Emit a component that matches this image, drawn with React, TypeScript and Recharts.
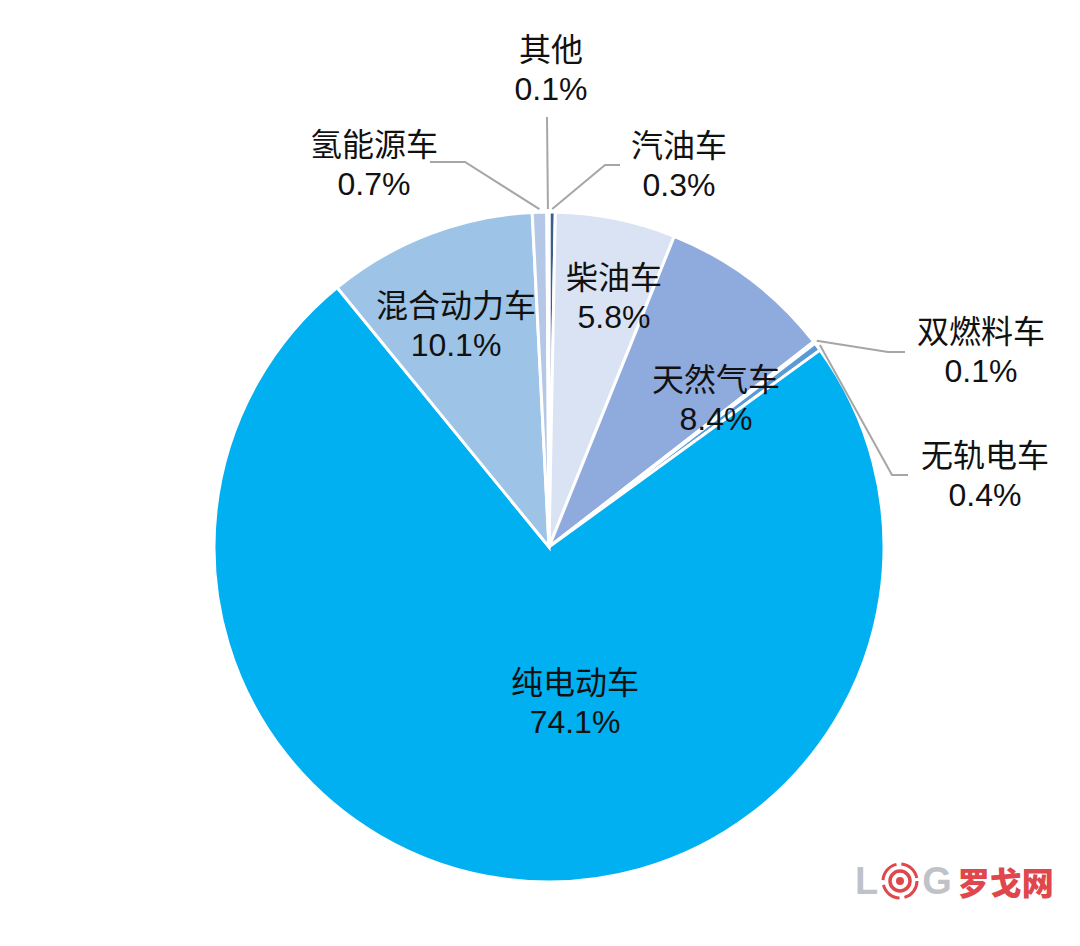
import { PieChart, Pie, Cell } from 'recharts'

// slices clockwise from 12 o'clock
const NAMES = ['汽油车', '柴油车', '天然气车', '双燃料车', '无轨电车', '纯电动车', '混合动力车', '氢能源车', '其他']
const SHARES = [0.3, 5.8, 8.4, 0.1, 0.4, 74.1, 10.1, 0.7, 0.1]
const COLORS = ['#3B5E8C', '#DAE3F3', '#8FAADC', '#4472C4', '#5B9BD5', '#00B0F0', '#9DC3E6', '#B4C7E7', '#1F3864']

const data = NAMES.map((name, i) => ({ name, value: SHARES[i] }))

// label placement relative to the pie centre; knee/end only for labels pulled outside
const LABEL_LAYOUT: { tx: number; ty: number; knee?: [number, number]; end?: [number, number] }[] = [
    { tx: 130, ty: -382, knee: [56, -382], end: [71, -382] },
    { tx: 65, ty: -250 },
    { tx: 167, ty: -148 },
    { tx: 432, ty: -196, knee: [339, -195], end: [356, -195] },
    { tx: 436, ty: -72, knee: [343, -72], end: [359, -72] },
    { tx: 26, ty: 155 },
    { tx: -93, ty: -222 },
    { tx: -175, ty: -383, knee: [-84, -385], end: [-119, -385] },
    { tx: 2, ty: -478, knee: [-2, -430], end: [-2, -430] },
]

const RAD = Math.PI / 180

function renderLabel(props: any) {
    const { cx, cy, midAngle, outerRadius, index } = props
    const cfg = LABEL_LAYOUT[index]
    const x = cx + cfg.tx
    const y = cy + cfg.ty
    let line = null
    if (cfg.knee && cfg.end) {
        const sx = cx + Math.cos(-midAngle * RAD) * (outerRadius + 3)
        const sy = cy + Math.sin(-midAngle * RAD) * (outerRadius + 3)
        const pts = `${sx},${sy} ${cx + cfg.knee[0]},${cy + cfg.knee[1]} ${cx + cfg.end[0]},${cy + cfg.end[1]}`
        line = <polyline points={pts} fill="none" stroke="#A6A6A6" strokeWidth={2} />
    }
    return (
        <g key={`lbl-${index}`}>
            {line}
            <text x={x} y={y} textAnchor="middle" fill="#111" fontSize={32}
                fontFamily="'Liberation Sans', Arial, 'Noto Sans CJK SC', sans-serif">
                <tspan x={x} dy={-8}>{NAMES[index]}</tspan>
                <tspan x={x} dy={39}>{SHARES[index].toFixed(1)}%</tspan>
            </text>
        </g>
    )
}

function Watermark() {
    return (
        <div style={{ position: 'absolute', left: 855, top: 858, display: 'flex', alignItems: 'center', fontFamily: "'Liberation Sans', Arial, sans-serif", fontWeight: 'bold' }}>
            <span style={{ color: '#BFC3C7', fontSize: 38 }}>L</span>
            <svg width={40} height={40} viewBox="0 0 40 40" style={{ margin: '0 2px' }}>
                <circle cx={20} cy={20} r={17} fill="none" stroke="#E0474C" strokeWidth={3} strokeDasharray="22 5" />
                <circle cx={20} cy={20} r={10} fill="none" stroke="#E0474C" strokeWidth={3.5} />
                <circle cx={20} cy={20} r={4} fill="#E0474C" />
            </svg>
            <span style={{ color: '#BFC3C7', fontSize: 38 }}>G</span>
            <span style={{ color: '#E0474C', fontSize: 32, marginLeft: 6, fontFamily: "'Noto Sans CJK SC', sans-serif", fontWeight: 900 }}>罗戈网</span>
        </div>
    )
}

export default function App() {
    return (
        <div style={{ position: 'absolute', left: 0, top: 0, width: 1080, height: 946, background: '#fff' }}>
            <PieChart width={1080} height={946} margin={{ top: 0, right: 0, bottom: 0, left: 0 }}>
                <Pie
                    data={data}
                    dataKey="value"
                    nameKey="name"
                    cx={549}
                    cy={547}
                    outerRadius={335}
                    startAngle={90}
                    endAngle={-270}
                    stroke="#fff"
                    strokeWidth={3}
                    label={renderLabel}
                    labelLine={false}
                    isAnimationActive={false}
                >
                    {data.map((entry, index) => (
                        <Cell key={`cell-${index}`} fill={COLORS[index]} />
                    ))}
                </Pie>
            </PieChart>
            <Watermark />
        </div>
    )
}
